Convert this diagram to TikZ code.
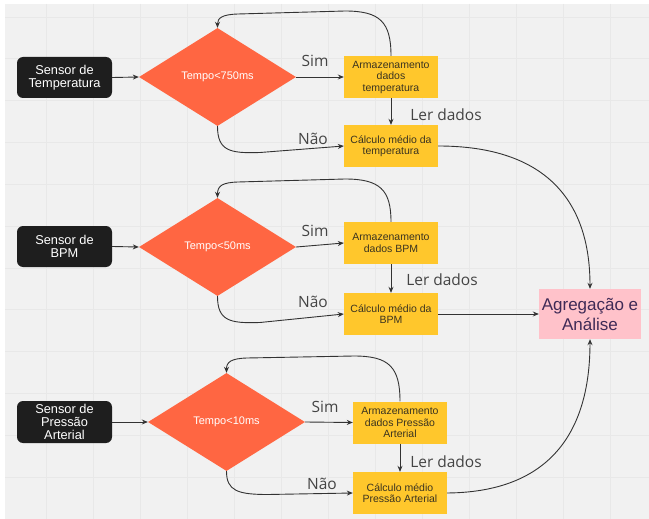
\documentclass[tikz,border=0pt]{standalone}
\usepackage{fontspec}
\setmainfont{Liberation Sans}
\newfontfamily\labfont{Open Sans}
\usetikzlibrary{shapes.geometric,arrows.meta}
\definecolor{bggray}{HTML}{F1F1F1}
\definecolor{gridc}{HTML}{E8E8E8}
\definecolor{sensorc}{HTML}{1E1E1E}
\definecolor{diac}{HTML}{FF6642}
\definecolor{yelc}{HTML}{FFC72C}
\definecolor{pinkc}{HTML}{FFC2CA}
\definecolor{pinktext}{HTML}{3F2A56}
\definecolor{linec}{HTML}{333333}
\definecolor{labc}{HTML}{444444}
\definecolor{boxtext}{HTML}{3A3320}
\tikzset{
  sensorbox/.style={rectangle, rounded corners=6pt, fill=sensorc, text=white, minimum width=95pt, minimum height=41pt, inner sep=0pt, align=center, font=\fontsize{12.8}{13}\selectfont},
  decbox/.style={shape=diamond, fill=diac, text=white, minimum width=157pt, minimum height=98pt, inner sep=0pt, font=\fontsize{11}{12}\selectfont},
  yelbox/.style={rectangle, fill=yelc, text=boxtext, minimum width=94pt, minimum height=42pt, inner sep=0pt, align=center, font=\fontsize{10.5}{11.5}\selectfont},
  pinkbox/.style={rectangle, fill=pinkc, text=pinktext, minimum width=102pt, minimum height=50pt, inner sep=0pt, align=center, font=\fontsize{17}{20}\selectfont},
  lab/.style={text=labc, inner sep=0pt, font=\labfont\fontsize{15.5}{17}\selectfont},
  arr/.style={draw=linec, line width=0.9pt, -{Stealth[length=6pt,width=5pt]}},
}
\begin{document}
\begin{tikzpicture}[x=1pt,y=-1pt]
\useasboundingbox (0,0) rectangle (649,519);
\fill[white] (0,0) rectangle (649,519);
\fill[bggray] (5,4) rectangle (649,519);
\foreach \gx in {46,93,...,610} \draw[gridc, line width=0.6pt] (\gx,4) -- (\gx,519);
\foreach \k in {0,...,11} \draw[gridc, line width=0.6pt] (5,17+41.8*\k) -- (649,17+41.8*\k);

% row 1
\node[sensorbox] (s1) at (64.5,77.5) {Sensor de\\Temperatura};
\node[decbox] (d1) at (217.5,77) {Tempo<750ms};
\node[yelbox] (a1) at (391,77) {Armazenamento\\dados\\temperatura};
\node[yelbox] (c1) at (391,146) {Cálculo médio da\\temperatura};
% row 2
\node[sensorbox] (s2) at (64.5,246.5) {Sensor de\\BPM};
\node[decbox] (d2) at (217.5,247) {Tempo<50ms};
\node[yelbox] (a2) at (391,243) {Armazenamento\\dados BPM};
\node[yelbox] (c2) at (391,314) {Cálculo médio da\\BPM};
\node[pinkbox] (ag) at (590,314) {Agregação e\\Análise};
% row 3
\node[sensorbox, minimum height=42pt] (s3) at (64.5,422) {Sensor de\\Pressão\\Arterial};
\node[decbox] (d3) at (226.5,422) {Tempo<10ms};
\node[yelbox] (a3) at (400,422.5) {Armazenamento\\dados Pressão\\Arterial};
\node[yelbox] (c3) at (400,493) {Cálculo médio\\Pressão Arterial};

% labels
\node[lab] (sim1) at (315,61) {Sim};
\node[lab] (nao1) at (313,138.5) {Não};
\node[lab] (ler1) at (446,114.5) {Ler dados};
\node[lab] (sim2) at (315,231) {Sim};
\node[lab] (nao2) at (313,302) {Não};
\node[lab] (ler2) at (442,280) {Ler dados};
\node[lab] (sim3) at (325,407) {Sim};
\node[lab] (nao3) at (322,484) {Não};
\node[lab] (ler3) at (446,461.5) {Ler dados};

% connectors row 1
\draw[arr] (s1.east) -- (d1.west);
\draw[arr] (d1.east) -- (a1.west);
\draw[arr] (a1.south) -- (c1.north);
\draw[arr] (d1.south) .. controls (217.5,151) and (230,153.5) .. (260,152.5) -- (c1.west);
\draw[arr] (a1.north) .. controls (391,22) and (380,11) .. (345,11) -- (238,14) .. controls (222,14.5) and (217.5,18) .. (d1.north);
% row 2
\draw[arr] (s2.east) -- (d2.west);
\draw[arr] (d2.east) -- (a2.west);
\draw[arr] (a2.south) -- (c2.north);
\draw[arr] (d2.south) .. controls (217.5,321) and (230,323.5) .. (260,322.5) -- (c2.west);
\draw[arr] (a2.north) .. controls (391,190) and (380,179) .. (345,179) -- (238,182) .. controls (222,182.5) and (217.5,186) .. (d2.north);
% row 3
\draw[arr] (s3.east) -- (d3.west);
\draw[arr] (d3.east) -- (a3.west);
\draw[arr] (a3.south) -- (c3.north);
\draw[arr] (d3.south) .. controls (226.5,491) and (238,494.5) .. (268,494.5) -- (c3.west);
\draw[arr] (a3.north) .. controls (400,367) and (389,356) .. (354,356) -- (247,358) .. controls (231,358.5) and (226.5,362) .. (d3.north);
% to aggregation
\draw[arr] (c1.east) .. controls (545,146) and (590,200) .. (ag.north);
\draw[arr] (c2.east) -- (ag.west);
\draw[arr] (c3.east) .. controls (560,492) and (590,420) .. (ag.south);
\end{tikzpicture}
\end{document}
